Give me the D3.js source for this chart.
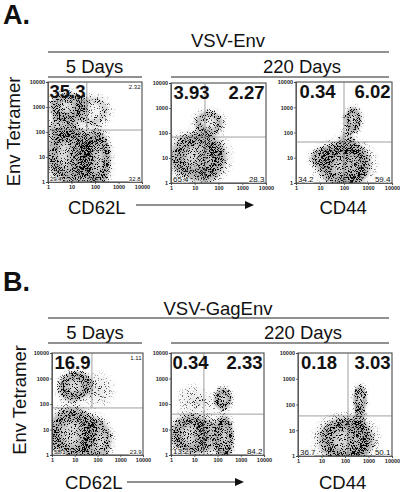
<!DOCTYPE html>
<html>
<head>
<meta charset="utf-8">
<script src="https://cdnjs.cloudflare.com/ajax/libs/d3/7.8.5/d3.min.js"></script>
<style>
    html, body { margin: 0; background: #fff; }
    text { font-family: "Liberation Sans", Arial, sans-serif; fill: #111; }
    .tick text { font-size: 5.5px; font-weight: bold; fill: #222; }
    .axis path, .tick line { stroke: #333; stroke-width: 0.7; }
    .low-label { stroke: #fff; stroke-width: 1.6px; paint-order: stroke; stroke-opacity: 0.75; }
</style>
</head>
<body>
<div id="chart"></div>
<script>
// log axis ticks shared by all six plots
const tickValues = [1, 10, 100, 1000, 10000];

// quadrant percentages: upper left, upper right, lower left, lower right
const a1Percent = ["35.3", "2.32", "29.4", "32.8"];
const a2Percent = ["3.93", "2.27", "65.4", "28.3"];
const a3Percent = ["0.34", "6.02", "34.2", "59.4"];
const b1Percent = ["16.9", "1.11", "58.1", "23.9"];
const b2Percent = ["0.34", "2.33", "13.2", "84.2"];
const b3Percent = ["0.18", "3.03", "36.7", "50.1"];

// gates: x value, y value
const a1Gate = [45, 120];
const a2Gate = [27, 69];
const a3Gate = [100, 42];
const b1Gate = [57, 70];
const b2Gate = [26, 40];
const b3Gate = [134, 36];

// cell populations
// log10 x, log10 y, spread x, spread y (decades), tilt, density
const a1Cells = [
    [0.85, 3.0, 0.7, 0.52, 0, 0.85],
    [1.85, 2.85, 0.7, 0.55, 0, 0.5],
    [0.6, 2.2, 0.5, 0.5, 40, 0.55],
    [0.85, 1.1, 0.8, 1.05, 0, 0.9],
    [2.05, 0.9, 0.55, 1.05, 0, 0.95],
    [1.45, 1.0, 0.5, 0.9, 0, 0.5]
];
const a2Cells = [
    [1.15, 1.05, 1.05, 0.85, 0, 0.95],
    [1.6, 0.75, 0.45, 0.65, 0, 0.45],
    [1.6, 2.4, 0.55, 0.45, 0, 0.7]
];
const a3Cells = [
    [2.0, 0.75, 1.0, 0.8, 0, 0.9],
    [2.4, 0.7, 0.45, 0.75, 0, 0.45],
    [1.15, 1.0, 0.5, 0.35, 0, 0.7],
    [2.1, 1.55, 0.28, 0.5, 0, 0.55],
    [2.38, 2.5, 0.3, 0.45, 0, 0.95]
];
const b1Cells = [
    [1.0, 2.7, 0.65, 0.5, -25, 0.95],
    [2.05, 2.55, 0.55, 0.55, 0, 0.3],
    [0.9, 0.85, 0.95, 0.9, 0, 0.95],
    [1.95, 0.6, 0.62, 0.75, 0, 0.7]
];
const b2Cells = [
    [0.85, 0.8, 0.75, 0.7, 0, 0.95],
    [1.6, 0.75, 0.5, 0.62, 0, 0.55],
    [2.28, 0.68, 0.36, 0.75, 0, 1],
    [2.24, 2.2, 0.32, 0.38, 0, 0.95],
    [1.6, 2.0, 0.5, 0.35, 0, 0.2],
    [0.9, 2.2, 0.5, 0.45, 0, 0.3]
];
const b3Cells = [
    [2.05, 0.62, 1.05, 0.78, 0, 0.95],
    [2.55, 0.6, 0.38, 0.75, 0, 0.5],
    [2.62, 1.45, 0.2, 0.45, 0, 0.6],
    [2.64, 2.2, 0.25, 0.48, 0, 0.95]
];

class FlowPlot {

    constructor(_svg, _box, _percent, _gate, _cells, _opts) {
        this.svg = _svg;
        this.box = _box;
        this.percent = _percent;
        this.gate = _gate;
        this.cells = _cells;
        this.opts = _opts;

        this.initVis();
    }

    initVis() {
        let vis = this;

        vis.width = vis.box.right - vis.box.left;
        vis.height = vis.box.bottom - vis.box.top;

        vis.g = vis.svg.append("g")
            .attr("transform", `translate(${vis.box.left},${vis.box.top})`);

        vis.x = d3.scaleLog().domain([1, 10000]).range([0, vis.width]);
        vis.y = d3.scaleLog().domain([1, 10000]).range([vis.height, 0]);

        vis.drawCells();
        vis.drawAxes();
        vis.drawLabels();
    }

    drawCells() {
        let vis = this;
        let id = "clip" + vis.box.left + "-" + vis.box.top;
        // ellipses run past the spread so the specks thin out gradually
        let reach = 1.5;

        vis.g.append("clipPath").attr("id", id)
            .append("rect")
            .attr("width", vis.width)
            .attr("height", vis.height);

        // the stipple filter turns these soft ellipses into specks
        vis.g.append("g")
            .attr("clip-path", `url(#${id})`)
            .append("g")
            .attr("filter", "url(#stipple)")
            .selectAll("ellipse")
            .data(vis.cells)
            .enter()
            .append("ellipse")
            .attr("fill", d => d[5] < 0.4 ? "url(#haze)" : "url(#ring)")
            .attr("opacity", d => d[5] < 0.4 ? d[5] * 1.4 : d[5])
            .attr("rx", d => reach * (vis.x(Math.pow(10, 1 + d[2])) - vis.x(10)))
            .attr("ry", d => reach * (vis.y(10) - vis.y(Math.pow(10, 1 + d[3]))))
            .attr("transform", d => `translate(${vis.x(Math.pow(10, d[0]))},${vis.y(Math.pow(10, d[1]))}) rotate(${d[4]})`);
    }

    drawAxes() {
        let vis = this;
        let format = d3.format("d");

        vis.g.append("g")
            .attr("class", "axis")
            .attr("transform", `translate(0,${vis.height})`)
            .call(d3.axisBottom(vis.x).tickValues(tickValues).tickFormat(format).tickSize(2).tickPadding(1.5));

        vis.g.append("g")
            .attr("class", "axis")
            .call(d3.axisLeft(vis.y).tickValues(tickValues).tickFormat(format).tickSize(2).tickPadding(1));

        // frame
        vis.g.append("rect")
            .attr("width", vis.width)
            .attr("height", vis.height)
            .attr("fill", "none")
            .attr("stroke", "#4a4a4a")
            .attr("stroke-width", 1.1);

        // gates
        let gx = vis.x(vis.gate[0]);
        let gy = vis.y(vis.gate[1]);
        vis.g.append("line")
            .attr("x2", vis.width)
            .attr("y1", gy).attr("y2", gy)
            .attr("stroke", "#777").attr("stroke-width", 0.7);
        vis.g.append("line")
            .attr("x1", gx).attr("x2", gx)
            .attr("y2", vis.opts.shortGate ? gy : vis.height)
            .attr("stroke", "#777").attr("stroke-width", 0.7);
    }

    drawLabels() {
        let vis = this;
        let big = 18.5;

        vis.g.append("text")
            .attr("x", vis.opts.ulX)
            .attr("y", 16)
            .attr("font-size", big)
            .attr("font-weight", "bold")
            .text(vis.percent[0]);

        vis.g.append("text")
            .attr("x", vis.width - 1.5)
            .attr("y", vis.opts.smallUR ? 7 : 16)
            .attr("text-anchor", "end")
            .attr("font-size", vis.opts.smallUR ? 6 : big)
            .attr("font-weight", vis.opts.smallUR ? "normal" : "bold")
            .text(vis.percent[1]);

        vis.g.append("text")
            .attr("class", "low-label")
            .attr("x", 2)
            .attr("y", vis.height - 1.5)
            .attr("font-size", vis.opts.lowSize)
            .text(vis.percent[2]);

        vis.g.append("text")
            .attr("class", "low-label")
            .attr("x", vis.width - 1.5)
            .attr("y", vis.height - 1.5)
            .attr("text-anchor", "end")
            .attr("font-size", vis.opts.lowSize)
            .text(vis.percent[3]);
    }
}

const svg = d3.select("#chart").append("svg")
    .attr("width", 400)
    .attr("height", 492)
    .style("display", "block");

const defs = svg.append("defs");

function addGradient(id, stops) {
    let grad = defs.append("radialGradient").attr("id", id);
    stops.forEach(s => {
        grad.append("stop")
            .attr("offset", s[0])
            .attr("stop-color", "#000")
            .attr("stop-opacity", s[1]);
    });
}

// pale middle, dark rim, then fading out: how the dot plots look
addGradient("ring", [[0, 0.3], [0.3, 0.34], [0.52, 0.72], [0.66, 0.5], [0.82, 0.16], [1, 0]]);
// thin populations have no rim
addGradient("haze", [[0, 0.6], [0.5, 0.42], [0.8, 0.14], [1, 0]]);

const stipple = defs.append("filter")
    .attr("id", "stipple")
    .attr("x", "-20%").attr("y", "-20%")
    .attr("width", "140%").attr("height", "140%")
    .attr("color-interpolation-filters", "sRGB");
stipple.append("feGaussianBlur")
    .attr("in", "SourceAlpha")
    .attr("stdDeviation", 1.8)
    .attr("result", "soft");
stipple.append("feTurbulence")
    .attr("type", "fractalNoise")
    .attr("baseFrequency", 1.37)
    .attr("numOctaves", 3)
    .attr("seed", 7)
    .attr("result", "noise");
stipple.append("feColorMatrix")
    .attr("in", "noise")
    .attr("type", "matrix")
    .attr("values", "0 0 0 0 0  0 0 0 0 0  0 0 0 0 0  3.5 0 0 0 -1.15")
    .attr("result", "grain");
stipple.append("feComposite")
    .attr("in", "soft")
    .attr("in2", "grain")
    .attr("operator", "arithmetic")
    .attr("k1", 0).attr("k2", 1).attr("k3", -1).attr("k4", 0)
    .attr("result", "cut");
stipple.append("feComponentTransfer")
    .attr("in", "cut")
    .attr("result", "dots")
    .append("feFuncA")
    .attr("type", "linear")
    .attr("slope", 3.5);
// grey wash under the specks, for the solid middles of the populations
stipple.append("feComponentTransfer")
    .attr("in", "soft")
    .attr("result", "wash")
    .append("feFuncA")
    .attr("type", "table")
    .attr("tableValues", "0 0.06 0.24 0.3 0.34 0.38");
const merge = stipple.append("feMerge").attr("result", "merged");
merge.append("feMergeNode").attr("in", "wash");
merge.append("feMergeNode").attr("in", "dots");
stipple.append("feGaussianBlur")
    .attr("in", "merged")
    .attr("stdDeviation", 0.35);

new FlowPlot(svg, {left: 48, right: 142, top: 82, bottom: 182}, a1Percent, a1Gate, a1Cells,
    {ulX: 1.5, smallUR: true, shortGate: true, lowSize: 6});
new FlowPlot(svg, {left: 171, right: 266, top: 83, bottom: 183}, a2Percent, a2Gate, a2Cells,
    {ulX: 2.5, smallUR: false, shortGate: false, lowSize: 8});
new FlowPlot(svg, {left: 296, right: 392, top: 82, bottom: 183}, a3Percent, a3Gate, a3Cells,
    {ulX: 3.5, smallUR: false, shortGate: false, lowSize: 8});
new FlowPlot(svg, {left: 52, right: 143, top: 353, bottom: 455}, b1Percent, b1Gate, b1Cells,
    {ulX: 2.5, smallUR: true, shortGate: true, lowSize: 6});
new FlowPlot(svg, {left: 171, right: 264, top: 353, bottom: 455}, b2Percent, b2Gate, b2Cells,
    {ulX: 1.5, smallUR: false, shortGate: false, lowSize: 8});
new FlowPlot(svg, {left: 298, right: 392, top: 353, bottom: 456}, b3Percent, b3Gate, b3Cells,
    {ulX: 3, smallUR: false, shortGate: false, lowSize: 8});

function addText(str, x, y, size, opts) {
    opts = opts || {};
    let t = svg.append("text")
        .attr("x", x)
        .attr("y", y)
        .attr("font-size", size)
        .attr("text-anchor", opts.anchor || "start")
        .attr("font-weight", opts.weight || "normal")
        .text(str);
    if (opts.rotate) t.attr("transform", `rotate(-90,${x},${y})`);
}

function addRule(x1, x2, y) {
    svg.append("line")
        .attr("x1", x1).attr("x2", x2)
        .attr("y1", y).attr("y2", y)
        .attr("stroke", "#222").attr("stroke-width", 1.2);
}

function addArrow(x1, x2, y) {
    addRule(x1, x2 - 6, y);
    svg.append("path")
        .attr("d", d3.line()([[x2 - 9, y - 4], [x2, y], [x2 - 9, y + 4]]))
        .attr("fill", "#111");
}

// panel A
addText("A.", 3, 24, 27, {weight: "bold"});
addText("VSV-Env", 228, 47, 18.5, {anchor: "middle"});
addRule(48, 389, 52);
addText("5 Days", 94.5, 73, 18.5, {anchor: "middle"});
addRule(48, 142, 77);
addText("220 Days", 302, 73, 18.5, {anchor: "middle"});
addRule(171, 389, 77);
addText("Env Tetramer", 20, 131.5, 18.5, {anchor: "middle", rotate: true});
addText("CD62L", 68, 214, 18.5);
addArrow(136, 254, 205);
addText("CD44", 319.5, 214, 18.5);

// panel B
addText("B.", 3, 291, 27, {weight: "bold"});
addText("VSV-GagEnv", 218, 315, 18.5, {anchor: "middle"});
addRule(48, 389, 318);
addText("5 Days", 95, 339, 18.5, {anchor: "middle"});
addRule(48, 142, 343);
addText("220 Days", 303, 339, 18.5, {anchor: "middle"});
addRule(171, 389, 343);
addText("Env Tetramer", 26, 400, 18.5, {anchor: "middle", rotate: true});
addText("CD62L", 65, 489, 18.5);
addArrow(127, 244, 482);
addText("CD44", 319, 489, 18.5);
</script>
</body>
</html>
